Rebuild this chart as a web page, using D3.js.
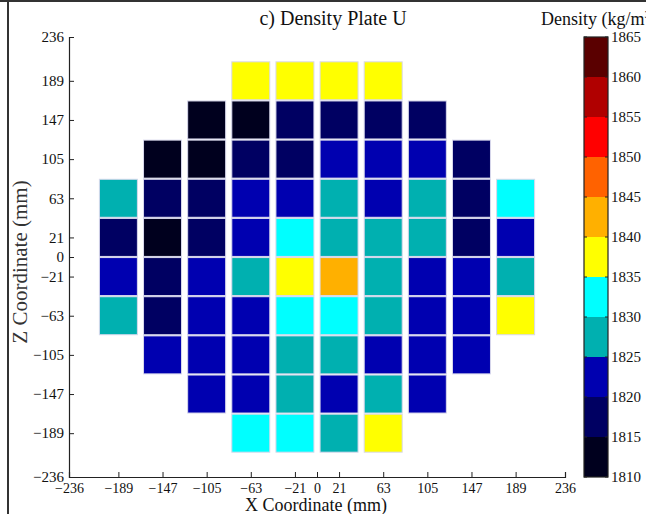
<!DOCTYPE html>
<html>
<head>
<meta charset="utf-8">
<script src="https://cdn.jsdelivr.net/npm/d3@7"></script>
<style>
  html, body { margin: 0; padding: 0; background: #fff; }
  svg { display: block; font-family: "Liberation Serif", "Times New Roman", serif; }
</style>
</head>
<body>
<svg id="chart" width="646" height="514"></svg>
<script>
// Grid cell centres (mm)
const xCenters = [-189, -147, -105, -63, -21, 21, 63, 105, 147, 189];
const zCenters = [189, 147, 105, 63, 21, -21, -63, -105, -147, -189];

// Axis tick values (mm)
const axisTicks = [-236, -189, -147, -105, -63, -21, 0, 21, 63, 105, 147, 189, 236];

// Density (kg/m^3) per row, from z = 189 (top) down to z = -189; null = no sample
const rowZ189  = [null, null, null, 1837, 1838, 1837, 1836, null, null, null];
const rowZ147  = [null, null, 1812, 1811, 1817, 1817, 1818, 1817, null, null];
const rowZ105  = [null, 1812, 1812, 1817, 1816, 1822, 1823, 1822, 1817, null];
const rowZ63   = [1827, 1817, 1817, 1822, 1823, 1828, 1822, 1827, 1818, 1832];
const rowZ21   = [1817, 1811, 1817, 1822, 1833, 1827, 1828, 1827, 1817, 1822];
const rowZm21  = [1822, 1817, 1822, 1827, 1837, 1842, 1828, 1822, 1823, 1827];
const rowZm63  = [1828, 1817, 1822, 1823, 1832, 1833, 1827, 1822, 1822, 1837];
const rowZm105 = [null, 1822, 1823, 1822, 1827, 1828, 1822, 1823, 1822, null];
const rowZm147 = [null, null, 1822, 1822, 1828, 1822, 1827, 1822, null, null];
const rowZm189 = [null, null, null, 1832, 1833, 1827, 1837, null, null, null];
const densityRows = [rowZ189, rowZ147, rowZ105, rowZ63, rowZ21, rowZm21, rowZm63, rowZm105, rowZm147, rowZm189];

// Discrete colour scale: 11 bands of 5 kg/m^3 from 1810 to 1865
const colorBreaks = [1810, 1815, 1820, 1825, 1830, 1835, 1840, 1845, 1850, 1855, 1860, 1865];
const bandColors = ["#00001e", "#000062", "#0000b0", "#00b0b0", "#00ffff", "#ffff00",
                    "#ffb000", "#ff6200", "#ff0000", "#b00000", "#5a0000"];

const svg = d3.select("#chart");

const x = d3.scaleLinear().domain([-236, 236]).range([69, 565]);
const y = d3.scaleLinear().domain([-236, 236]).range([477, 37]);
const color = d3.scaleThreshold().domain(colorBreaks.slice(1, -1)).range(bandColors);

// Figure frame edges
svg.append("line").attr("x1", 0).attr("x2", 646).attr("y1", 1).attr("y2", 1)
  .attr("stroke", "#333").attr("stroke-width", 2);
svg.append("line").attr("x1", 8).attr("x2", 8).attr("y1", 0).attr("y2", 514)
  .attr("stroke", "#333").attr("stroke-width", 2);

// Flatten the grid
const cells = [];
densityRows.forEach((row, i) => {
  row.forEach((v, j) => {
    if (v !== null) cells.push({ x: xCenters[j], z: zCenters[i], v });
  });
});

const cellSize = 38;
svg.append("g").selectAll("rect").data(cells).join("rect")
  .attr("x", d => x(d.x) - cellSize / 2)
  .attr("y", d => y(d.z) - cellSize / 2)
  .attr("width", cellSize)
  .attr("height", cellSize)
  .attr("fill", d => color(d.v))
  .attr("stroke", "#d8d8ec")
  .attr("stroke-width", 1);

// Axes
const xAxis = d3.axisBottom(x).tickValues(axisTicks).tickSize(-5).tickPadding(4)
  .tickFormat(d3.format("d"));
const gx = svg.append("g").attr("transform", `translate(0,${y(-236)})`).call(xAxis);
const yAxis = d3.axisLeft(y).tickValues(axisTicks).tickSize(-5).tickPadding(4)
  .tickFormat(d3.format("d"));
const gy = svg.append("g").attr("transform", `translate(${x(-236)},0)`).call(yAxis);

[gx, gy].forEach(g => {
  g.select(".domain").attr("stroke", "#222").attr("stroke-width", 1.2);
  g.selectAll(".tick line").attr("stroke", "#222");
  g.selectAll(".tick text").attr("fill", "#111")
    .style("font-family", "'Liberation Serif', serif");
});
gx.selectAll(".tick text").attr("dy", "0.85em").style("font-size", "14px");
gy.selectAll(".tick text").attr("dx", "-1px").style("font-size", "15px");

// Titles
svg.append("text").attr("x", 333).attr("y", 25).attr("text-anchor", "middle")
  .style("font-size", "20px").attr("fill", "#111").text("c) Density Plate U");
svg.append("text").attr("x", 316).attr("y", 511).attr("text-anchor", "middle")
  .style("font-size", "18px").attr("fill", "#111").text("X Coordinate (mm)");
svg.append("text").attr("transform", "translate(27,262) rotate(-90)").attr("text-anchor", "middle")
  .style("font-size", "21px").attr("fill", "#333").text("Z Coordinate (mm)");

// Colour bar
const cbX = 584, cbW = 24;
const cbY = d3.scaleLinear().domain([1810, 1865]).range([477, 37]);
const bands = bandColors.map((c, i) => ({ lo: colorBreaks[i], hi: colorBreaks[i + 1], c }));
const cb = svg.append("g");
cb.selectAll("rect").data(bands).join("rect")
  .attr("x", cbX).attr("width", cbW)
  .attr("y", d => cbY(d.hi)).attr("height", d => cbY(d.lo) - cbY(d.hi))
  .attr("fill", d => d.c);
cb.append("rect").attr("x", cbX).attr("y", cbY(1865)).attr("width", cbW)
  .attr("height", cbY(1810) - cbY(1865)).attr("fill", "none")
  .attr("stroke", "#222").attr("stroke-width", 1.2);
cb.selectAll("line.tl").data(colorBreaks).join("line").attr("class", "tl")
  .attr("x1", cbX).attr("x2", cbX + 3).attr("y1", d => cbY(d)).attr("y2", d => cbY(d))
  .attr("stroke", "#222");
cb.selectAll("line.tr").data(colorBreaks).join("line").attr("class", "tr")
  .attr("x1", cbX + cbW - 3).attr("x2", cbX + cbW).attr("y1", d => cbY(d)).attr("y2", d => cbY(d))
  .attr("stroke", "#222");
cb.selectAll("text").data(colorBreaks).join("text")
  .attr("x", cbX + cbW + 3).attr("y", d => cbY(d) + 5)
  .style("font-size", "15px").attr("fill", "#111").text(d => d);
svg.append("text").attr("x", 541).attr("y", 25)
  .style("font-size", "18px").attr("fill", "#111")
  .html("Density (kg/m<tspan dy='-7' style='font-size:11px'>3</tspan><tspan dy='7'>)</tspan>");
</script>
</body>
</html>
